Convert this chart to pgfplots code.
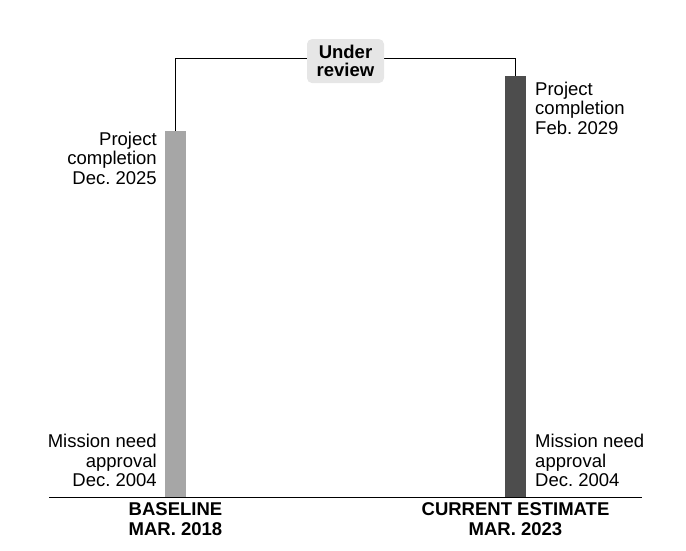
\documentclass[border=0pt]{standalone}
\usepackage{fontspec}
\setmainfont{Liberation Sans}
\usepackage{pgfplots}
\pgfplotsset{compat=1.18}
\frenchspacing

\definecolor{basegray}{HTML}{A6A6A6}
\definecolor{curgray}{HTML}{4D4D4D}
\definecolor{boxgray}{HTML}{E6E6E6}

\newcommand{\lblfont}{\fontsize{18.5}{19.5}\selectfont}

\begin{document}
\begin{tikzpicture}[x=1pt,y=1pt]
\path[use as bounding box] (0,0) rectangle (686,550);
\begin{axis}[
    at={(49pt,53pt)}, anchor=south west,
    scale only axis, width=593pt, height=497pt,
    xmin=-0.372, xmax=1.372,
    ymin=0, ymax=28.5,
    axis x line=bottom, axis y line=none,
    axis line style={-, black, line width=0.8pt},
    xtick={0,1},
    xticklabels={{BASELINE\\MAR. 2018},{CURRENT ESTIMATE\\MAR. 2023}},
    xticklabel style={align=center, font=\bfseries\fontsize{18.5}{20}\selectfont, inner sep=0pt, yshift=-5.5pt},
    major tick length=0pt,
    ytick=\empty,
    clip=false,
  ]
  % years from mission need approval (Dec. 2004) to project completion
  \addplot[ybar, bar width=21pt, bar shift=0pt, fill=basegray, draw=none]
    coordinates {(0,21.0)};
  \addplot[ybar, bar width=21pt, bar shift=0pt, fill=curgray, draw=none]
    coordinates {(1,24.17)};
  % bracket between the two completion dates
  \addplot[black, line width=0.8pt, mark=none]
    coordinates {(0,21.0) (0,25.17) (1,25.17) (1,24.17)};

  \node[fill=boxgray, rounded corners=5pt, align=center, font=\bfseries\fontsize{18.5}{17.5}\selectfont,
        minimum width=77pt, minimum height=44pt, inner sep=2pt, yshift=-3pt]
    at (axis cs:0.5,25.17) {Under\\review};

  \node[anchor=north east, align=right, inner sep=0pt, font=\lblfont, xshift=-18.5pt, yshift=-1pt]
    at (axis cs:0,21.0) {Project\\completion\\Dec. 2025};
  \node[anchor=north west, align=left, inner sep=0pt, font=\lblfont, xshift=19.5pt, yshift=-6pt]
    at (axis cs:1,24.17) {Project\\completion\\Feb. 2029};

  \node[anchor=south east, align=right, inner sep=0pt, font=\lblfont, xshift=-18.5pt, yshift=10pt]
    at (axis cs:0,0) {Mission need\\approval\\Dec. 2004};
  \node[anchor=south west, align=left, inner sep=0pt, font=\lblfont, xshift=19.5pt, yshift=10pt]
    at (axis cs:1,0) {Mission need\\approval\\Dec. 2004};
\end{axis}
\end{tikzpicture}
\end{document}
